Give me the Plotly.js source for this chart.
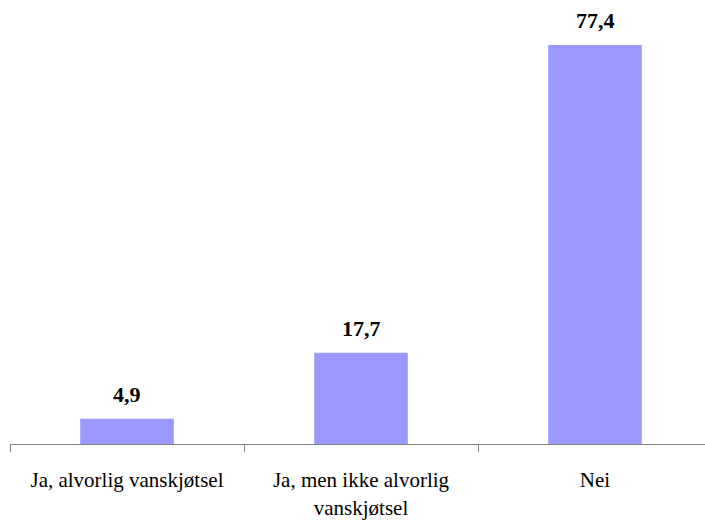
<!DOCTYPE html>
<html>
<head>
<meta charset="utf-8">
<script src="https://cdn.plot.ly/plotly-3.0.1.min.js"></script>
<style>html,body{margin:0;padding:0;background:#fff;}#chart{width:705px;height:522px;}</style>
</head>
<body>
<div id="chart"></div>
<script>
var categories = ["Ja, alvorlig vanskjøtsel", "Ja, men ikke alvorlig<br>vanskjøtsel", "Nei"];
var values = [4.9, 17.7, 77.4];

var fontFamily = 'Liberation Serif, Times New Roman, serif';

var annotations = categories.map(function (c, i) {
  return {
    x: c, y: values[i], xref: 'x', yref: 'y',
    text: '<b>' + values[i].toFixed(1).replace('.', ',') + '</b>',
    showarrow: false, yanchor: 'bottom', yshift: 10,
    font: {family: fontFamily, size: 22, color: '#000'}
  };
});

var trace = {
  type: 'bar',
  x: categories,
  y: values,
  width: 0.4,
  marker: {color: '#9999FF', line: {width: 0}},
  hoverinfo: 'none'
};

var layout = {
  width: 705, height: 522,
  margin: {l: 10, r: 0, t: 10, b: 78},
  paper_bgcolor: '#fff', plot_bgcolor: '#fff',
  showlegend: false,
  font: {family: fontFamily, size: 21, color: '#000'},
  xaxis: {
    type: 'category',
    range: [-0.5, 2.47],
    tickson: 'boundaries',
    ticks: 'outside', ticklen: 7, tickwidth: 1, tickcolor: '#808080',
    ticklabelstandoff: 17,
    showline: true, linecolor: '#808080', linewidth: 1,
    showgrid: false, zeroline: false,
    tickfont: {family: fontFamily, size: 21, color: '#000'}
  },
  yaxis: {
    range: [0, 84.2],
    visible: false, showgrid: false, zeroline: false
  },
  annotations: annotations
};

Plotly.newPlot('chart', [trace], layout, {displayModeBar: false, staticPlot: true});
</script>
</body>
</html>
